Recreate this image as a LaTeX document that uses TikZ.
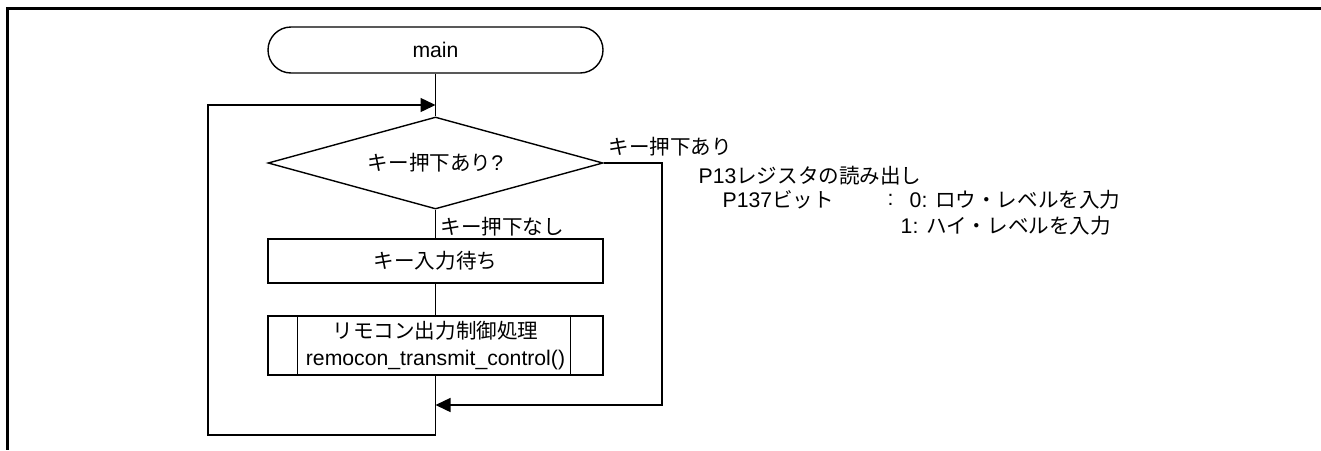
\documentclass[tikz,border=0pt]{standalone}
\usepackage{fontspec}
\setmainfont{Liberation Sans}
\newfontfamily\jp[Scale=0.97]{Noto Sans CJK JP}
\usetikzlibrary{shapes.geometric, arrows.meta}

\begin{document}
\begin{tikzpicture}[x=0.5pt,y=-0.5pt,
    font=\fontsize{10.6}{13.5}\selectfont,
    line width=0.7pt,
    term/.style={draw, rounded corners=11.5pt, minimum width=167.5pt, minimum height=23pt},
    decide/.style={draw, diamond, aspect=3.64, inner sep=0pt, minimum width=167.5pt, minimum height=46pt},
    proc/.style={draw, inner sep=0pt, minimum width=167.5pt, minimum height=22pt},
    lbl/.style={anchor=west, inner sep=0pt},
    arr/.style={-{Triangle[length=7.5pt,width=7pt]}}]
    \useasboundingbox (0,0) rectangle (1321,450);
    \draw[line width=1.5pt] (1321,8) -- (7,8) -- (7,450);

    \node[term] (main) at (435.5,50) {main};
    \node[decide] (dec) at (435.5,163) {{\jp キー押下あり}?};
    \node[proc] (wait) at (435.5,261) {\jp キー入力待ち};
    \node[proc, minimum height=29.5pt, align=center] (sub) at (435.5,345.5)
    {{\jp リモコン出力制御処理}\\remocon\_transmit\_control()};
    \draw ([xshift=15pt]sub.north west) -- ([xshift=15pt]sub.south west);
    \draw ([xshift=-16.5pt]sub.north east) -- ([xshift=-16.5pt]sub.south east);

    \coordinate (join) at (435.5,105);
    \coordinate (merge) at (435.5,405);
    \coordinate (btm) at (435.5,435);
    \coordinate (lft) at (208,435);
    \coordinate (rgt) at (662,163);

    \draw (main) -- (dec);
    \draw (dec) -- (wait);
    \draw (wait) -- (sub);
    \draw[arr] (sub) -- (btm) -- (lft) |- (join);
    \draw[arr] (dec.east) -- (rgt) |- (merge);

    \node[lbl] (yes) at (608,147) {\jp キー押下あり};
    \node[lbl] (no) at (440,227) {\jp キー押下なし};
    \node[lbl] (reg) at (698,176) {P13{\jp レジスタの読み出し}};
    \node[lbl] (bit) at (722,200) {P137{\jp ビット}};
    \node[lbl] (colon) at (887,200) {:};
    \node[lbl] (lo) at (909,200) {0: {\jp ロウ・レベルを入力}};
    \node[lbl] (hi) at (900,226) {1: {\jp ハイ・レベルを入力}};
\end{tikzpicture}
\end{document}
